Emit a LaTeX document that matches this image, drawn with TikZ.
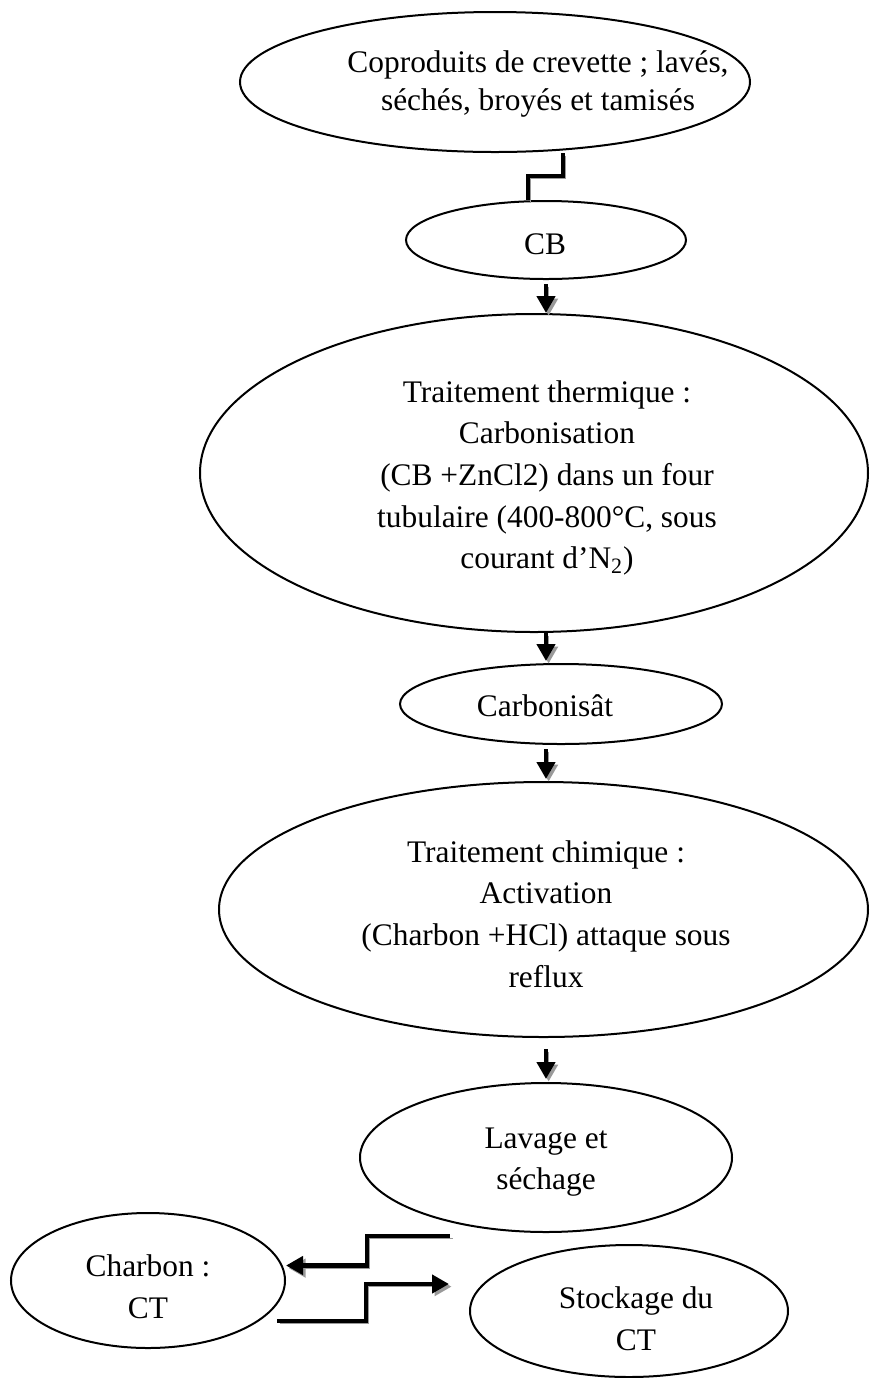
\documentclass[tikz,border=0pt]{standalone}
\usepackage{fontspec}
\setmainfont{Liberation Serif}
\usepackage{xcolor}
\usetikzlibrary{arrows.meta,calc,shapes.geometric}
\definecolor{ink}{HTML}{000000}
\definecolor{shade}{HTML}{9A9A9A}
\tikzset{
  >=Triangle,
  every node/.style={font=\fontsize{15.7}{20.8}\selectfont,text=ink},
  oval/.style={draw=ink,ellipse,line width=1pt,inner sep=0pt},
  txt/.style={align=center,inner sep=0pt},
  shadowed/.style={preaction={draw=shade,transform canvas={shift={(1.3pt,-1.3pt)}}}},
  flow/.style={shadowed,-{Triangle[width=9pt,length=8.5pt]},line width=2.4pt,draw=ink},
  elbow/.style={shadowed,line width=2.4pt,draw=ink}
}
\begin{document}
\begin{tikzpicture}[x=0.5pt,y=-0.5pt]
  \useasboundingbox (0,0) rectangle (869,1378);

  % etapes du procede
  \node[oval,minimum width=255pt,minimum height=70pt] (crevette) at (495,82) {};
  \node[txt,font=\fontsize{15.7}{19}\selectfont] (crevetteT) at (538,84) {Coproduits de crevette ; lavés,\\séchés, broyés et tamisés};

  \node[oval,minimum width=140pt,minimum height=39pt] (cb) at (546,240) {};
  \node[txt] (cbT) at (545,244) {CB};

  \node[oval,minimum width=334pt,minimum height=159pt] (thermique) at (534,473) {};
  \node[txt] (thermiqueT) at (547,478) {Traitement thermique :\\Carbonisation\\(CB +ZnCl2) dans un four\\tubulaire (400-800°C, sous\\courant d’N\textsubscript{2})};

  \node[oval,minimum width=161pt,minimum height=40pt] (carbo) at (561,704) {};
  \node[txt] (carboT) at (545,706) {Carbonisât};

  \node[oval,minimum width=324.5pt,minimum height=127.5pt] (chimie) at (543.5,909.5) {};
  \node[txt] (chimieT) at (546,914) {Traitement chimique :\\Activation\\(Charbon +HCl) attaque sous\\reflux};

  \node[oval,minimum width=186pt,minimum height=74.5pt] (lavage) at (546,1157.5) {};
  \node[txt] (lavageT) at (546,1162) {Lavage et\\séchage};

  \node[oval,minimum width=137pt,minimum height=67.5pt] (charbon) at (148,1280.5) {};
  \node[txt] (charbonT) at (148,1287) {Charbon :\\CT};

  \node[oval,minimum width=159pt,minimum height=66pt] (stock) at (629,1311) {};
  \node[txt] (stockT) at (636,1319) {Stockage du\\CT};

  % liaisons
  \draw[elbow] ($(crevette.south)+(68,0)$) -- ++(0,23) -| ($(cb.north)+(-18,0)$);
  \draw[flow,shorten <=2pt] (cb.south) -- (cb.south |- thermique.north);
  \draw[flow,shorten >=1pt] (thermique.south -| cb) -- (carbo.north -| cb);
  \draw[flow,shorten <=2pt,shorten >=1pt] (carbo.south -| cb) -- (chimie.north -| cb);
  \draw[flow,shorten <=5.5pt,shorten >=1.5pt] (chimie.south -| cb) -- (lavage.north -| cb);

  \coordinate (lavOut) at (450,1236);
  \coordinate (ctOut) at (277,1321);
  \coordinate (stockIn) at (449,1284);
  \draw[flow] (lavOut) -- ++(-83,0) |- ($(charbon.east)+(0,-15)$);
  \draw[flow] (ctOut) -- ++(89,0) |- (stockIn);
\end{tikzpicture}
\end{document}
